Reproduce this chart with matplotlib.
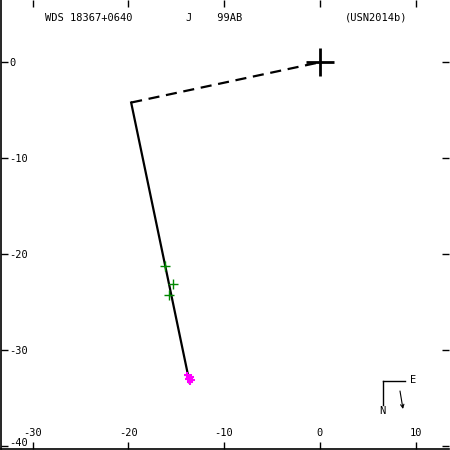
import matplotlib
matplotlib.use("Agg")
import matplotlib.pyplot as plt
from matplotlib.lines import Line2D

# Data (arcsec offsets)
orbit_x = [-19.7, -13.6]
orbit_y = [-4.2, -33.4]
dash_x = [-19.7, 0.0]
dash_y = [-4.2, 0.0]
green_x = [-16.2, -15.3, -15.7]
green_y = [-21.25, -23.1, -24.3]
mag_x = [-13.9, -13.5, -13.8, -13.3, -13.6]
mag_y = [-32.6, -32.8, -33.0, -33.1, -33.3]
xticks = [-30, -20, -10, 0, 10]
yticks = [0, -10, -20, -30, -40]
title_left = "WDS 18367+0640"
title_mid = "J    99AB"
title_right = "(USN2014b)"

fig = plt.figure(figsize=(4.5, 4.5), dpi=100)
ax = fig.add_axes([0.002, 0.003, 0.996, 0.996])
ax.set_xlim(-33.3, 13.5)
ax.set_ylim(-40.3, 6.45)

mono = "DejaVu Sans Mono"
ax.plot(orbit_x, orbit_y, color="black", lw=1.6, zorder=2)
ax.plot(dash_x, dash_y, color="black", lw=1.6, ls=(0, (5, 3)), zorder=2)
ax.plot([0], [0], marker="+", ms=20, mew=2, color="black", zorder=3)
ax.plot(green_x, green_y, ls="none", marker="+", ms=7, mew=1, color="#008800", zorder=3)
ax.plot(mag_x, mag_y, ls="none", marker="+", ms=5, mew=1.5, color="#ff00ff", zorder=3)

ax.set_xticks(xticks)
ax.set_yticks(yticks)
ax.set_xticklabels([f"{t}" for t in xticks], family=mono)
ax.set_yticklabels([f"{t}" for t in yticks], ha="left", family=mono)
ax.tick_params(direction="in", length=5, width=1, top=True, right=True,
               labelsize=7.5)
ax.tick_params(axis="x", pad=-15)
ax.tick_params(axis="y", pad=-6)
ylabs = ax.get_yticklabels()
ylabs[-1].set_verticalalignment("baseline")

ax.spines["top"].set_visible(False)
ax.spines["right"].set_visible(False)
for s in ("left", "bottom"):
    ax.spines[s].set_linewidth(1.2)

fig.text(45/450, 1-18/450, title_left, family=mono, fontsize=7.5, va="center", ha="left")
fig.text(186/450, 1-18/450, title_mid, family=mono, fontsize=7.5, va="center", ha="left")
fig.text(345/450, 1-18/450, title_right, family=mono, fontsize=7.5, va="center", ha="left")

# compass
fig.add_artist(Line2D([383/450, 405/450], [1-381/450, 1-381/450], lw=1, color="black"))
fig.add_artist(Line2D([383/450, 383/450], [1-381/450, 1-405/450], lw=1, color="black"))
fig.text(413/450, 1-380/450, "E", family=mono, fontsize=7.5, ha="center", va="center")
fig.text(382/450, 1-411/450, "N", family=mono, fontsize=7.5, ha="center", va="center")
ax.annotate("", xy=(403/450, 1-409/450), xytext=(400/450, 1-391/450), xycoords="figure fraction",
            textcoords="figure fraction",
            arrowprops=dict(arrowstyle="->", lw=0.8, color="black", mutation_scale=6,
                            shrinkA=0, shrinkB=0))

fig.savefig("out.png", dpi=100)
